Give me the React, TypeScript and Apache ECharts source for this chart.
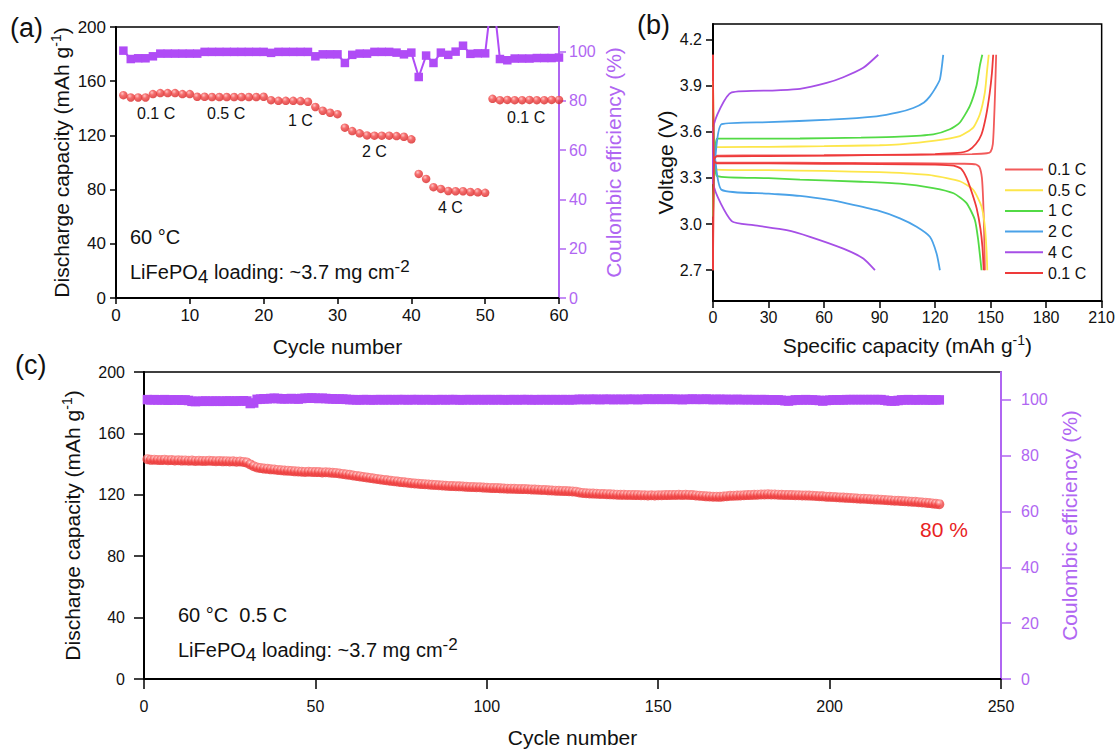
import React, { useEffect, useRef } from "react";
import * as echarts from "echarts";

// ---------- Panel (a): rate performance ----------
const capA = [
  149.7, 148.0, 148.0, 148.0, 150.5, 151.2, 151.2, 151.2, 150.5, 150.5,
  148.5, 148.5, 148.3, 148.3, 148.3, 148.3, 148.3, 148.3, 148.3, 148.5,
  146.0, 145.5, 145.5, 145.5, 145.3, 144.8, 141.0, 138.2, 136.7, 135.7,
  125.7, 123.2, 121.5, 120.0, 119.8, 119.8, 119.8, 119.5, 119.0, 117.1,
  91.6, 87.9, 81.8, 80.5, 79.0, 78.8, 78.8, 78.2, 78.0, 77.6,
  147.0, 146.0, 146.2, 146.0, 146.0, 146.2, 146.0, 146.0, 146.2, 146.2,
];
const ceA = [
  100.4, 97.0, 97.3, 97.3, 98.1, 99.2, 99.2, 99.2, 99.2, 99.2,
  99.2, 99.9, 99.9, 99.9, 99.9, 99.9, 99.9, 99.9, 99.9, 99.9,
  99.5, 99.9, 99.9, 99.9, 99.9, 99.9, 98.1, 98.9, 98.9, 98.9,
  95.4, 98.7, 99.2, 99.2, 99.9, 99.9, 99.9, 99.6, 98.9, 99.6,
  89.7, 98.4, 95.4, 99.6, 98.7, 100.0, 102.4, 99.1, 99.3, 99.3,
  125.0, 97.0, 96.5, 97.2, 97.2, 97.2, 97.4, 97.4, 97.4, 97.6,
];
const rateLabelsA = ["0.1 C", "0.5 C", "1 C", "2 C", "4 C", "0.1 C"];

// ---------- Panel (b): charge / discharge profiles ----------
const rateNames = ["0.1 C", "0.5 C", "1 C", "2 C", "4 C", "0.1 C "];
const rateColors = ["#f25a5a", "#fde64a", "#52da45", "#4aa2e8", "#a64fe6", "#ee3a3a"];
const charge01a = [[0, 2.7], [0.6, 3.42], [2, 3.445], [30, 3.446], [60, 3.447], [90, 3.449], [120, 3.451], [140, 3.455], [148, 3.46], [150, 3.47], [151.2, 3.52], [151.8, 3.65], [152.4, 3.85], [153, 4.1]];
const discharge01a = [[0, 4.1], [0.5, 3.42], [2, 3.4], [30, 3.399], [60, 3.398], [90, 3.396], [120, 3.394], [135, 3.392], [142, 3.388], [144, 3.37], [145.3, 3.3], [146, 3.15], [146.5, 2.95], [146.9, 2.7]];
const charge05 = [[0, 3.05], [0.8, 3.42], [2, 3.5], [30, 3.502], [60, 3.506], [90, 3.512], [101, 3.518], [119, 3.54], [133.4, 3.572], [140.6, 3.627], [144.2, 3.714], [146.9, 3.856], [148.2, 4.01], [149, 4.1]];
const discharge05 = [[0, 3.93], [0.8, 3.42], [2, 3.354], [30, 3.35], [60, 3.345], [90, 3.337], [101, 3.332], [119, 3.315], [133.4, 3.278], [140.6, 3.223], [145.1, 3.114], [146.9, 2.984], [147.8, 2.83], [148.2, 2.7]];
const charge1 = [[0, 3.05], [1, 3.42], [2.2, 3.555], [30, 3.555], [47, 3.556], [80, 3.562], [101, 3.568], [119, 3.583], [128, 3.616], [133.4, 3.66], [138.8, 3.768], [142.4, 3.9], [144.2, 4.03], [145.5, 4.1]];
const discharge1 = [[0, 3.75], [1, 3.42], [2.2, 3.311], [30, 3.298], [47, 3.289], [80, 3.275], [101, 3.263], [119, 3.234], [130, 3.2], [137, 3.136], [141.5, 3.027], [143.3, 2.896], [145.1, 2.7]];
const charge2 = [[0, 3.3], [1.2, 3.43], [4.7, 3.649], [30, 3.662], [63, 3.678], [88.4, 3.7], [100, 3.725], [108.2, 3.754], [114, 3.79], [117.2, 3.83], [120, 3.88], [122.6, 3.94], [124.4, 4.1]];
const discharge2 = [[0, 3.58], [1.2, 3.42], [4.7, 3.222], [30, 3.198], [47, 3.183], [63, 3.157], [72.2, 3.135], [88.4, 3.09], [101, 3.037], [110, 2.982], [117.2, 2.917], [120.8, 2.809], [122.6, 2.7]];
const charge4 = [[0, 3.26], [0.3, 3.63], [10.1, 3.856], [34.4, 3.869], [47, 3.878], [61.4, 3.917], [70.4, 3.954], [81.2, 4.015], [89.3, 4.1]];
const discharge4 = [[0, 3.63], [0.3, 3.26], [10.1, 3.019], [21.8, 2.993], [39.8, 2.96], [52.4, 2.917], [70.4, 2.84], [81.2, 2.776], [87.5, 2.7]];
const charge01b = [[0, 2.7], [0.6, 3.42], [2, 3.44], [30, 3.442], [60, 3.445], [90, 3.449], [120, 3.455], [132, 3.462], [138, 3.478], [142, 3.52], [145, 3.58], [147.5, 3.7], [149.5, 3.85], [150.7, 3.98], [151.4, 4.1]];
const discharge01b = [[0, 4.1], [0.5, 3.42], [2, 3.395], [30, 3.394], [60, 3.392], [90, 3.39], [120, 3.386], [130, 3.38], [134, 3.36], [137, 3.3], [140, 3.2], [142.5, 3.1], [144.5, 2.97], [145.6, 2.85], [146.3, 2.7]];
const profiles = [
  [charge01a, discharge01a],
  [charge05, discharge05],
  [charge1, discharge1],
  [charge2, discharge2],
  [charge4, discharge4],
  [charge01b, discharge01b],
];
const voltageTicks = [2.7, 3.0, 3.3, 3.6, 3.9, 4.2];
const ceTicks = [0, 20, 40, 60, 80, 100];

// ---------- Panel (c): long-term cycling ----------
const capC = [
  143.2, 142.8, 142.9, 142.7, 142.6, 142.8, 142.5, 142.6, 142.4, 142.5,
  142.3, 142.4, 142.2, 142.3, 142.1, 142.2, 142.0, 142.1, 142.2, 142.0,
  141.9, 142.0, 141.8, 141.9, 141.7, 141.8, 141.6, 141.7, 141.4, 141.0,
  139.8, 138.6, 137.8, 137.4, 137.1, 136.9, 136.6, 136.5, 136.2, 136.0,
  135.8, 135.7, 135.5, 135.3, 135.2, 135.0, 134.9, 135.0, 134.9, 134.8,
  134.8, 134.6, 134.7, 134.5, 134.3, 134.2, 133.9, 133.6, 133.3, 133.0,
  132.6, 132.3, 132.0, 131.6, 131.3, 131.0, 130.6, 130.3, 130.0, 129.7,
  129.4, 129.1, 128.9, 128.6, 128.3, 128.1, 127.9, 127.6, 127.4, 127.2,
  127.0, 126.9, 126.7, 126.5, 126.4, 126.2, 126.1, 125.9, 125.8, 125.7,
  125.6, 125.5, 125.4, 125.2, 125.1, 125.0, 124.9, 124.9, 124.7, 124.6,
  124.5, 124.4, 124.4, 124.2, 124.1, 124.0, 124.0, 123.9, 123.8, 123.7,
  123.7, 123.6, 123.5, 123.4, 123.3, 123.2, 123.1, 122.9, 122.8, 122.7,
  122.6, 122.5, 122.4, 122.3, 122.2, 122.0, 121.5, 121.2, 121.0, 120.9,
  120.8, 120.7, 120.6, 120.5, 120.4, 120.3, 120.2, 120.1, 120.0, 120.0,
  119.9, 119.9, 119.8, 119.8, 119.7, 119.7, 119.6, 119.7, 119.6, 119.7,
  119.7, 119.8, 119.8, 119.9, 119.9, 120.0, 119.9, 120.0, 119.9, 119.8,
  119.6, 119.4, 119.2, 119.0, 118.9, 118.8, 118.8, 118.7, 118.9, 119.1,
  119.3, 119.4, 119.5, 119.6, 119.7, 119.8, 119.9, 120.0, 120.1, 120.2,
  120.2, 120.3, 120.2, 120.2, 120.1, 120.0, 119.9, 119.9, 119.8, 119.7,
  119.7, 119.6, 119.6, 119.5, 119.4, 119.2, 119.1, 119.0, 118.8, 118.7,
  118.6, 118.4, 118.3, 118.2, 118.0, 117.9, 117.8, 117.6, 117.5, 117.4,
  117.3, 117.1, 117.0, 116.9, 116.8, 116.6, 116.5, 116.3, 116.2, 116.1,
  115.9, 115.8, 115.7, 115.5, 115.4, 115.2, 115.0, 114.8, 114.6, 114.4,
  114.1, 113.9,
];
const ceC = [
  100.1, 100.0, 100.1, 100.0, 100.0, 100.1, 99.9, 100.0, 100.0, 100.0,
  99.9, 100.0, 99.8, 99.5, 99.4, 99.5, 99.5, 99.6, 99.5, 99.5,
  99.6, 99.5, 99.5, 99.6, 99.6, 99.5, 99.6, 99.6, 99.7, 99.6,
  98.7, 98.9, 100.2, 100.3, 100.4, 100.4, 100.5, 100.6, 100.5, 100.4,
  100.4, 100.4, 100.5, 100.4, 100.3, 100.5, 100.6, 100.6, 100.7, 100.6,
  100.5, 100.6, 100.5, 100.4, 100.4, 100.3, 100.3, 100.3, 100.2, 100.1,
  100.1, 100.0, 100.0, 100.1, 100.1, 100.0, 100.0, 100.1, 100.1, 100.0,
  100.1, 100.1, 100.0, 100.1, 100.1, 100.1, 100.0, 100.1, 100.1, 100.1,
  100.0, 100.1, 100.1, 100.0, 100.0, 100.1, 100.1, 100.0, 100.1, 100.1,
  100.1, 100.0, 100.0, 100.1, 100.1, 100.0, 100.1, 100.1, 100.0, 100.1,
  100.1, 100.0, 100.1, 100.1, 100.0, 100.0, 100.1, 100.1, 100.0, 100.1,
  100.1, 100.1, 100.0, 100.1, 100.0, 100.1, 100.1, 100.0, 100.1, 100.1,
  100.0, 100.1, 100.1, 100.0, 100.1, 100.1, 100.2, 100.2, 100.1, 100.2,
  100.2, 100.2, 100.1, 100.2, 100.2, 100.2, 100.1, 100.2, 100.2, 100.1,
  100.2, 100.2, 100.2, 100.1, 100.2, 100.2, 100.3, 100.2, 100.2, 100.3,
  100.2, 100.2, 100.3, 100.2, 100.2, 100.2, 100.1, 100.2, 100.2, 100.3,
  100.2, 100.2, 100.2, 100.3, 100.2, 100.1, 100.2, 100.2, 100.1, 100.2,
  100.1, 100.1, 100.2, 100.1, 100.1, 100.1, 100.1, 100.1, 100.0, 100.1,
  100.1, 100.0, 100.0, 100.0, 100.0, 99.9, 99.7, 99.6, 99.8, 100.0,
  100.0, 100.0, 100.1, 100.0, 100.0, 99.9, 99.8, 99.6, 99.8, 99.9,
  100.0, 100.0, 100.0, 100.0, 100.1, 100.1, 100.1, 100.1, 100.1, 100.1,
  100.1, 100.1, 100.1, 100.1, 100.1, 99.9, 99.7, 99.6, 99.6, 99.8,
  100.0, 100.0, 100.1, 100.0, 100.0, 100.0, 100.1, 100.0, 100.0, 100.0,
  100.0, 100.0,
];

const FONT = '"Liberation Sans", Arial, Helvetica, sans-serif';
const INK = "#111111";
const PURPLE = "#b04cf6";
const PURPLE_TXT = "#b066f2";

const sphere = () =>
  new echarts.graphic.RadialGradient(0.38, 0.32, 0.7, [
    { offset: 0, color: "#ffb4b4" },
    { offset: 0.4, color: "#f24848" },
    { offset: 1, color: "#d62222" },
  ]);

const titleRich = (color: string) => ({
  t: { fontSize: 21, fontFamily: FONT, color, lineHeight: 24 },
  s: { fontSize: 14, fontFamily: FONT, color, lineHeight: 14, verticalAlign: "top" },
});

const blackAxis = (tickLen: number) => ({
  axisLine: { onZero: false, lineStyle: { color: "#000", width: 2 } },
  axisTick: { length: tickLen, lineStyle: { color: "#000", width: 1.5 } },
  splitLine: { show: false },
});

const purpleAxis = (tickLen: number, margin: number) => ({
  axisLine: { onZero: false, lineStyle: { color: PURPLE_TXT, width: 2 } },
  axisTick: { length: tickLen, customValues: ceTicks, lineStyle: { color: PURPLE_TXT, width: 1.5 } },
  axisLabel: { customValues: ceTicks, fontSize: 16, color: PURPLE_TXT, fontFamily: FONT, margin },
  splitLine: { show: false },
});

const txt = (text: string, left: number, top: number, fontSize: number, color = INK) => ({
  text,
  left,
  top,
  padding: 0,
  textStyle: { fontSize, fontWeight: "normal", fontFamily: FONT, color, lineHeight: fontSize },
});

const loadingText = (left: number, top: number) => ({
  text: "{a|LiFePO}{b|4}{a| loading: ~3.7 mg cm}{c|-2}",
  left,
  top,
  padding: 0,
  textStyle: {
    fontWeight: "normal",
    rich: {
      a: { fontSize: 20, fontFamily: FONT, color: INK, lineHeight: 28 },
      b: { fontSize: 19, fontFamily: FONT, color: INK, lineHeight: 19, verticalAlign: "bottom" },
      c: { fontSize: 17, fontFamily: FONT, color: INK, lineHeight: 15, verticalAlign: "top" },
    },
  },
});

export default function App() {
  const ref = useRef<HTMLDivElement>(null);

  useEffect(() => {
    if (!ref.current) return;
    const chart = echarts.init(ref.current, undefined, { renderer: "svg" });

    const profileSeries: any[] = [];
    profiles.forEach((pair, i) => {
      pair.forEach((curve) => {
        profileSeries.push({
          name: rateNames[i],
          type: "line",
          xAxisIndex: 1,
          yAxisIndex: 2,
          data: curve,
          symbol: "none",
          showSymbol: false,
          smooth: 0.2,
          color: rateColors[i],
          itemStyle: { color: rateColors[i] },
          lineStyle: { color: rateColors[i], width: 1.8 },
        });
      });
    });

    const option: any = {
      animation: false,
      backgroundColor: "#ffffff",
      textStyle: { fontFamily: FONT },
      title: [
        txt("(a)", 10, 14, 27),
        txt("(b)", 637, 11, 27),
        txt("(c)", 15, 351, 27),
        txt(rateLabelsA[0], 137, 105, 16),
        txt(rateLabelsA[1], 207, 105, 16),
        txt(rateLabelsA[2], 288, 112, 16),
        txt(rateLabelsA[3], 362, 143, 16),
        txt(rateLabelsA[4], 438, 199, 16),
        txt(rateLabelsA[5], 507, 109, 16),
        txt("60 °C", 130, 227, 20),
        loadingText(130, 258),
        txt("60 °C  0.5 C", 178, 605, 20),
        loadingText(178, 636),
        txt("80 %", 920, 519, 21, "#e8231f"),
      ],
      legend: {
        data: rateNames,
        orient: "vertical",
        left: 1005,
        top: 161,
        itemWidth: 38,
        itemHeight: 2,
        itemGap: 3.7,
        icon: "rect",
        selectedMode: false,
        padding: 0,
        textStyle: { fontSize: 16, fontFamily: FONT, color: INK, lineHeight: 17 },
      },
      grid: [
        { left: 116, top: 27, width: 443, height: 271, show: true, borderColor: "#000", borderWidth: 1.5 },
        { left: 713, top: 24, width: 389, height: 277, show: true, borderColor: "#000", borderWidth: 1.5 },
        { left: 144, top: 372, width: 857, height: 307, show: true, borderColor: "#000", borderWidth: 1.5 },
      ],
      xAxis: [
        {
          gridIndex: 0, type: "value", min: 0, max: 60, interval: 10,
          ...blackAxis(6),
          axisLabel: { fontSize: 17, color: INK, fontFamily: FONT, margin: 9 },
          name: "Cycle number", nameLocation: "middle", nameGap: 38,
          nameTextStyle: { fontSize: 21, color: INK, fontFamily: FONT },
        },
        {
          gridIndex: 1, type: "value", min: 0, max: 210, interval: 30,
          ...blackAxis(7),
          axisLabel: { fontSize: 16, color: INK, fontFamily: FONT, margin: 8 },
          name: "{t|Specific capacity (mAh g}{s|-1}{t|)}", nameLocation: "middle", nameGap: 32,
          nameTextStyle: { rich: titleRich(INK) },
        },
        {
          gridIndex: 2, type: "value", min: 0, max: 250, interval: 50,
          ...blackAxis(10),
          axisLabel: { fontSize: 16, color: INK, fontFamily: FONT, margin: 19 },
          name: "Cycle number", nameLocation: "middle", nameGap: 48,
          nameTextStyle: { fontSize: 21, color: INK, fontFamily: FONT },
        },
      ],
      yAxis: [
        {
          gridIndex: 0, type: "value", min: 0, max: 200, interval: 40,
          ...blackAxis(6),
          axisLabel: { fontSize: 17, color: INK, fontFamily: FONT, margin: 10 },
          name: "{t|Discharge capacity (mAh g}{s|-1}{t|)}", nameLocation: "middle", nameGap: 43,
          nameTextStyle: { rich: titleRich(INK) },
        },
        {
          gridIndex: 0, type: "value", position: "right", min: 0, max: 110,
          ...purpleAxis(7, 10),
          name: "Coulombic efficiency (%)", nameLocation: "middle", nameGap: 44,
          nameTextStyle: { fontSize: 21, color: PURPLE_TXT, fontFamily: FONT },
        },
        {
          gridIndex: 1, type: "value", min: 2.5, max: 4.3,
          ...blackAxis(7),
          axisTick: { length: 7, customValues: voltageTicks, lineStyle: { color: "#000", width: 1.5 } },
          axisLabel: {
            customValues: voltageTicks, fontSize: 16, color: INK, fontFamily: FONT, margin: 11,
            formatter: (v: number) => v.toFixed(1),
          },
          name: "Voltage (V)", nameLocation: "middle", nameGap: 35,
          nameTextStyle: { fontSize: 21, color: INK, fontFamily: FONT },
        },
        {
          gridIndex: 2, type: "value", min: 0, max: 200, interval: 40,
          ...blackAxis(10),
          axisLabel: { fontSize: 16, color: INK, fontFamily: FONT, margin: 19 },
          name: "{t|Discharge capacity (mAh g}{s|-1}{t|)}", nameLocation: "middle", nameGap: 60,
          nameTextStyle: { rich: titleRich(INK) },
        },
        {
          gridIndex: 2, type: "value", position: "right", min: 0, max: 110,
          ...purpleAxis(10, 20),
          name: "Coulombic efficiency (%)", nameLocation: "middle", nameGap: 55,
          nameTextStyle: { fontSize: 21, color: PURPLE_TXT, fontFamily: FONT },
        },
      ],
      series: [
        {
          type: "line", name: "CE a", xAxisIndex: 0, yAxisIndex: 1,
          data: ceA.map((v, i) => [i + 1, v]),
          symbol: "rect", symbolSize: 8.5,
          itemStyle: { color: PURPLE },
          lineStyle: { color: PURPLE, width: 2 },
          clip: true,
        },
        {
          type: "scatter", name: "Cap a", xAxisIndex: 0, yAxisIndex: 0,
          data: capA.map((v, i) => [i + 1, v]),
          symbolSize: 8.5,
          itemStyle: { color: sphere() },
        },
        ...profileSeries,
        {
          type: "line", name: "CE c", xAxisIndex: 2, yAxisIndex: 4,
          data: ceC.map((v, i) => [i + 1, v]),
          symbol: "rect", symbolSize: 9.5,
          itemStyle: { color: PURPLE },
          lineStyle: { color: PURPLE, width: 2 },
        },
        {
          type: "scatter", name: "Cap c", xAxisIndex: 2, yAxisIndex: 3,
          data: capC.map((v, i) => [i + 1, v]),
          symbolSize: 10,
          itemStyle: {
            color: new echarts.graphic.RadialGradient(0.45, 0.3, 0.7, [
              { offset: 0, color: "#ffffff" },
              { offset: 0.25, color: "#ff9c9c" },
              { offset: 0.55, color: "#f24646" },
              { offset: 1, color: "#e63636" },
            ]),
          },
        },
      ],
    };

    chart.setOption(option);
    return () => chart.dispose();
  }, []);

  return (
    <div
      ref={ref}
      style={{ position: "fixed", left: 0, top: 0, width: 1118, height: 752, background: "#fff" }}
    />
  );
}
